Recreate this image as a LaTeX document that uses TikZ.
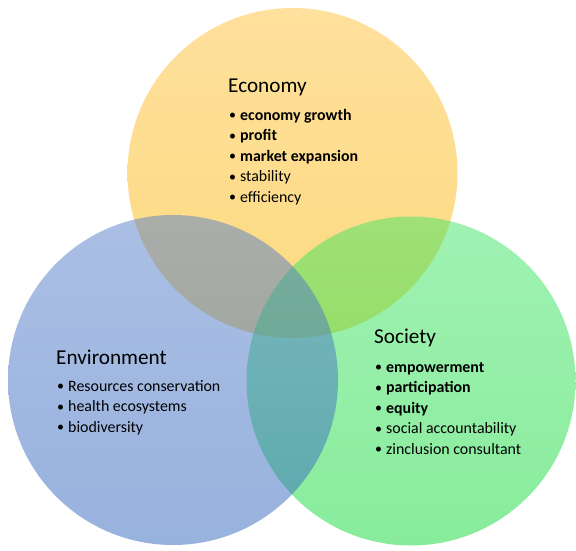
\documentclass[tikz,border=0pt]{standalone}
\usepackage{fontspec}
\setmainfont{Carlito}
\begin{document}
\begin{tikzpicture}[x=1pt,y=-1pt,
  head/.style={anchor=base west,inner sep=0pt,font=\fontsize{21.2}{24}\selectfont},
  itm/.style={anchor=base west,inner sep=0pt,font=\fontsize{15.9}{18}\selectfont},
  bitm/.style={itm,font=\fontsize{15.9}{18}\selectfont\bfseries},
  bul/.style={anchor=base west,inner sep=0pt,font=\fontsize{14}{18}\selectfont}]
\useasboundingbox (0,0) rectangle (576,550);
\definecolor{ytop}{RGB}{255,193,58}
\definecolor{ybot}{RGB}{250,183,0}
\definecolor{btop}{RGB}{88,127,202}
\definecolor{bbot}{RGB}{48,102,189}
\definecolor{gtop}{RGB}{66,229,102}
\definecolor{gbot}{RGB}{18,217,58}
% circles: economy, society, environment (environment on top)
\shade[top color=ytop,bottom color=ybot,fill opacity=0.5] (292.5,173) circle[radius=165];
\shade[top color=gtop,bottom color=gbot,fill opacity=0.5] (411,381) circle[radius=164.5];
\shade[top color=btop,bottom color=bbot,fill opacity=0.5] (173,380) circle[radius=165];
% Economy
\node[head] (ecoh) at (228,92.5) {Economy};
\node[bul] (eb1) at (229,119.5) {•}; \node[bitm] (e1) at (240,120) {economy growth};
\node[bul] (eb2) at (229,140) {•}; \node[bitm] (e2) at (240,140.5) {profit};
\node[bul] (eb3) at (229,160.5) {•}; \node[bitm] (e3) at (240,161) {market expansion};
\node[bul] (eb4) at (229,181) {•}; \node[itm] (e4) at (240,181.5) {stability};
\node[bul] (eb5) at (229,201.5) {•}; \node[itm] (e5) at (240,202) {efficiency};
% Environment
\node[head] (envh) at (56,364) {Environment};
\node[bul] (vb1) at (57,390.5) {•}; \node[itm] (v1) at (68,391) {Resources conservation};
\node[bul] (vb2) at (57,411) {•}; \node[itm] (v2) at (68,411.5) {health ecosystems};
\node[bul] (vb3) at (57,431.5) {•}; \node[itm] (v3) at (68,432) {biodiversity};
% Society
\node[head] (soch) at (374,343) {Society};
\node[bul] (sb1) at (375,371.5) {•}; \node[bitm] (s1) at (386,372) {empowerment};
\node[bul] (sb2) at (375,392) {•}; \node[bitm] (s2) at (386,392.5) {participation};
\node[bul] (sb3) at (375,412.5) {•}; \node[bitm] (s3) at (386,413) {equity};
\node[bul] (sb4) at (375,433) {•}; \node[itm] (s4) at (386,433.5) {social accountability};
\node[bul] (sb5) at (375,453.5) {•}; \node[itm] (s5) at (386,454) {zinclusion consultant};
\end{tikzpicture}
\end{document}
